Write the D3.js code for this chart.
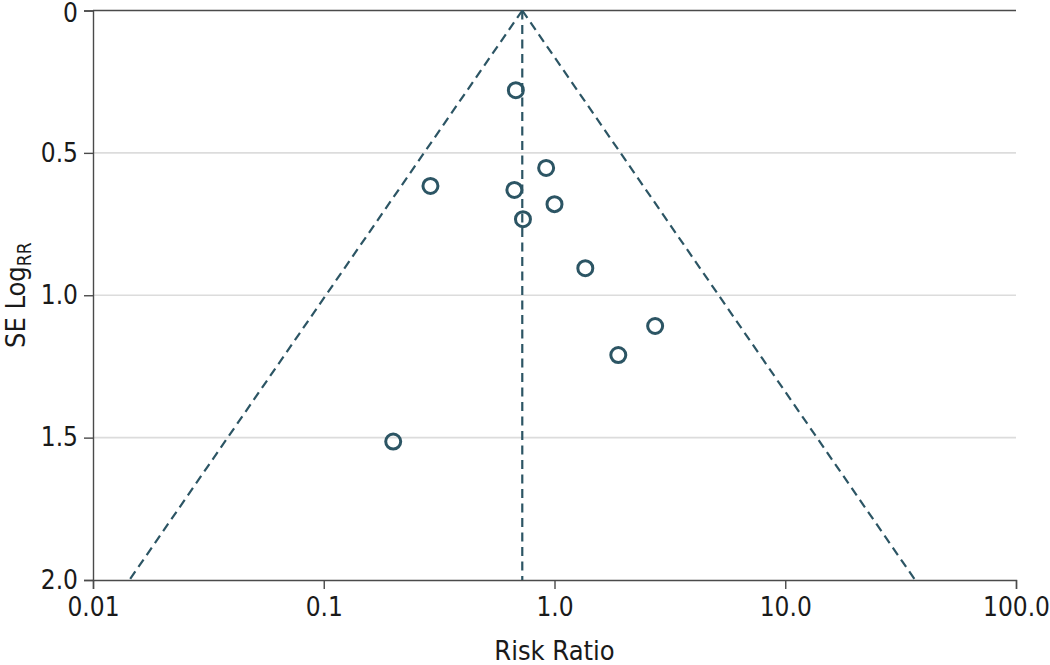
<!DOCTYPE html>
<html>
<head>
<meta charset="utf-8">
<script src="https://cdn.jsdelivr.net/npm/d3@7"></script>
<style>
  html, body { margin: 0; padding: 0; background: #fff; }
  svg text { font-family: "DejaVu Sans Condensed", "DejaVu Sans", sans-serif; font-stretch: condensed; fill: #1a1a1a; }
</style>
</head>
<body>
<svg id="chart" width="1050" height="665"></svg>
<script>
// ---- data ----
const riskRatio = [0.68, 0.29, 0.67, 0.92, 1.0, 0.73, 1.36, 2.73, 1.89, 0.20];
const seLogRR   = [0.28, 0.616, 0.63, 0.553, 0.68, 0.733, 0.905, 1.108, 1.21, 1.514];
const pooledRR  = 0.725;
const xTicks = [0.01, 0.1, 1, 10, 100];
const xTickLabels = ["0.01", "0.1", "1.0", "10.0", "100.0"];
const yTicks = [0, 0.5, 1.0, 1.5, 2.0];
const yTickLabels = ["0", "0.5", "1.0", "1.5", "2.0"];
const zVal = 1.96;

// ---- layout ----
const svg = d3.select("#chart");
const mLeft = 93, mRight = 1016, mTop = 10.5, mBottom = 580;
const color = "#2c5564";
const axisColor = "#4a4a4a";
const tickFont = 26;
const titleFont = 27;
const fontFam = '"DejaVu Sans Condensed", "DejaVu Sans", sans-serif';

const x = d3.scaleLog().domain([0.01, 100]).range([mLeft, mRight]);
const y = d3.scaleLinear().domain([0, 2]).range([mTop, mBottom]);

// gridlines
svg.append("g").selectAll("line").data(yTicks.slice(1, -1)).join("line")
  .attr("x1", mLeft).attr("x2", mRight)
  .attr("y1", d => y(d)).attr("y2", d => y(d))
  .attr("stroke", "#dcdcdc").attr("stroke-width", 1.6);

// top line at 0
svg.append("line").attr("x1", mLeft).attr("x2", mRight)
  .attr("y1", y(0)).attr("y2", y(0))
  .attr("stroke", axisColor).attr("stroke-width", 1.4);

// y axis
const yAxis = d3.axisLeft(y).tickValues(yTicks)
  .tickFormat((d, i) => yTickLabels[i]).tickSizeOuter(0).tickSize(9).tickPadding(6);
const gy = svg.append("g").attr("transform", `translate(${mLeft},0)`).call(yAxis);
gy.select(".domain").attr("stroke", axisColor).attr("stroke-width", 1.4);
gy.selectAll(".tick line").attr("stroke", axisColor).attr("stroke-width", 1.4);
gy.selectAll(".tick text").attr("font-size", tickFont).attr("fill", "#1a1a1a")
  .style("font-family", fontFam);
gy.selectAll(".tick text").filter((d, i) => i === 0).attr("dy", "0.42em");

// x axis
const xAxis = d3.axisBottom(x).tickValues(xTicks)
  .tickFormat((d, i) => xTickLabels[i]).tickSizeOuter(0).tickSize(9).tickPadding(9);
const gx = svg.append("g").attr("transform", `translate(0,${mBottom})`).call(xAxis);
gx.select(".domain").attr("stroke", axisColor).attr("stroke-width", 1.4);
gx.selectAll(".tick line").attr("stroke", axisColor).attr("stroke-width", 1.4);
gx.selectAll(".tick text").attr("font-size", tickFont).attr("fill", "#1a1a1a")
  .style("font-family", fontFam);

// funnel lines
const seMax = 2;
const funnel = [
  [[pooledRR, 0], [pooledRR * Math.exp(-zVal * seMax), seMax]],
  [[pooledRR, 0], [pooledRR * Math.exp(zVal * seMax), seMax]],
  [[pooledRR, 0], [pooledRR, seMax]]
];
const line = d3.line().x(d => x(d[0])).y(d => y(d[1]));
svg.append("g").selectAll("path").data(funnel).join("path")
  .attr("d", line)
  .attr("fill", "none").attr("stroke", color).attr("stroke-width", 2.2)
  .attr("stroke-dasharray", "9,5.5");

// points
const pts = riskRatio.map((r, i) => ({ r, s: seLogRR[i] }));
svg.append("g").selectAll("circle").data(pts).join("circle")
  .attr("cx", d => x(d.r)).attr("cy", d => y(d.s)).attr("r", 7.5)
  .attr("fill", "none").attr("stroke", color).attr("stroke-width", 3);

// axis titles
svg.append("text").attr("x", (mLeft + mRight) / 2).attr("y", 660)
  .attr("text-anchor", "middle").attr("font-size", titleFont).text("Risk Ratio");

const yl = svg.append("text")
  .attr("transform", `translate(25,${(mTop + mBottom) / 2}) rotate(-90)`)
  .attr("text-anchor", "middle").attr("font-size", titleFont);
yl.append("tspan").text("SE Log");
yl.append("tspan").attr("font-size", 19).attr("dy", 6).text("RR");
</script>
</body>
</html>
